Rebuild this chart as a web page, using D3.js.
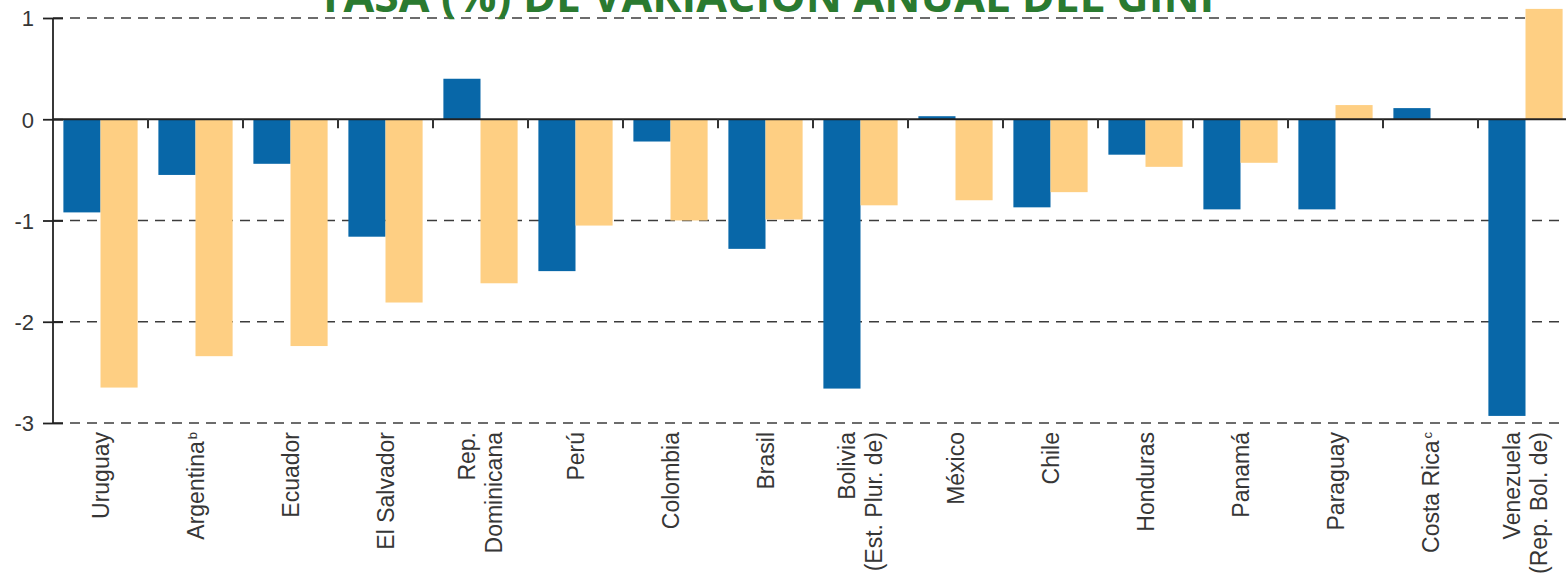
<!DOCTYPE html>
<meta charset="utf-8">
<html>
<head>
    <title>Tasa de variación anual del Gini</title>
    <script src="https://cdn.jsdelivr.net/npm/d3@7"></script>
</head>
<style>
    body{
        margin: 0;
        background: white;
    }
    svg{
        display: block;
    }
    .tick-label{
        fill: #363636;
        font-family: "Liberation Sans", Arial, sans-serif;
    }
    .title{
        fill: #2a7a30;
        font-family: "Open Sans", sans-serif;
        font-weight: 700;
    }
</style>
<body>
<svg width="1566" height="577"></svg>
<script>

    // data
    let countries = ["Uruguay", "Argentina", "Ecuador", "El Salvador", "Rep. Dominicana", "Perú",
        "Colombia", "Brasil", "Bolivia", "México", "Chile", "Honduras", "Panamá", "Paraguay",
        "Costa Rica", "Venezuela"]
    // label lines and note letters for the x axis
    let labelLines = [["Uruguay"], ["Argentina"], ["Ecuador"], ["El Salvador"], ["Rep.", "Dominicana"], ["Perú"],
        ["Colombia"], ["Brasil"], ["Bolivia", "(Est. Plur. de)"], ["México"], ["Chile"], ["Honduras"], ["Panamá"], ["Paraguay"],
        ["Costa Rica"], ["Venezuela", "(Rep. Bol. de)"]]
    let notes = ["", "b", "", "", "", "", "", "", "", "", "", "", "", "", "c", ""]
    let serieA = [-0.92, -0.55, -0.44, -1.16, 0.40, -1.50, -0.22, -1.28, -2.66, 0.03, -0.87, -0.35, -0.89, -0.89, 0.11, -2.93]
    let serieB = [-2.65, -2.34, -2.24, -1.81, -1.62, -1.05, -1.00, -0.99, -0.85, -0.80, -0.72, -0.47, -0.43, 0.14, 0, 1.09]
    let yTicks = [1, 0, -1, -2, -3]
    let titleText = "TASA (%) DE VARIACIÓN ANUAL DEL GINI"

    let series = ["serieA", "serieB"]
    let colors = {serieA: "#0867a8", serieB: "#fecf83"}

    let rows = countries.map((c, i) => ({country: c, serieA: serieA[i], serieB: serieB[i]}))

    let svg = d3.select("svg")

    //*****************************
    // scales
    let left = 53, step = 95
    let x = d3.scaleBand()
        .domain(countries)
        .range([left, left + step * countries.length])
        .padding(0)
    let xInner = d3.scaleBand()
        .domain(series)
        .range([0, x.bandwidth()])
        .paddingInner(0)
        .paddingOuter(0.28)
    let y = d3.scaleLinear()
        .domain([-3, 1])
        .range([423, 18])

    //*****************************
    // dashed grid lines
    svg.append('g')
        .selectAll('line')
        .data(yTicks.filter(d => d !== 0))
        .enter()
        .append('line')
        .attr('x1', left)
        .attr('x2', 1566)
        .attr('y1', d => y(d))
        .attr('y2', d => y(d))
        .attr('stroke', '#3c3c3c')
        .attr('stroke-width', 1.6)
        .attr('stroke-dasharray', '10,7')

    //*****************************
    // bars
    let groups = svg.append('g')
        .selectAll('g')
        .data(rows)
        .enter()
        .append('g')
        .attr('transform', d => 'translate(' + x(d.country) + ',0)')
    groups.selectAll('rect')
        .data(d => series.map(s => ({key: s, value: d[s]})))
        .enter()
        .append('rect')
        .attr('x', d => xInner(d.key))
        .attr('width', xInner.bandwidth())
        .attr('y', d => y(Math.max(0, d.value)))
        .attr('height', d => Math.abs(y(d.value) - y(0)))
        .attr('fill', d => colors[d.key])

    //*****************************
    // zero line and ticks between the groups
    svg.append('line')
        .attr('x1', left).attr('x2', 1566)
        .attr('y1', y(0)).attr('y2', y(0))
        .attr('stroke', '#222').attr('stroke-width', 1.8)
    svg.append('g')
        .selectAll('line')
        .data(countries.slice(1).concat(['end']))
        .enter()
        .append('line')
        .attr('x1', (d, i) => x(countries[i]) + step)
        .attr('x2', (d, i) => x(countries[i]) + step)
        .attr('y1', y(0))
        .attr('y2', y(0) + 9)
        .attr('stroke', '#333')
        .attr('stroke-width', 2)

    //*****************************
    // y axis
    let yAxis = svg.append('g')
        .attr('transform', 'translate(' + left + ',0)')
        .call(d3.axisLeft(y).tickValues(yTicks).tickSize(10).tickPadding(9).tickFormat(d3.format('d')))
    yAxis.select('.domain').attr('stroke', '#222').attr('stroke-width', 1.8)
        .attr('d', 'M0,' + y(1) + 'V' + y(-3))
    yAxis.selectAll('.tick line').attr('stroke', '#222').attr('stroke-width', 1.8)
        .attr('x1', 10)
    yAxis.selectAll('.tick text')
        .attr('class', 'tick-label')
        .style('font-size', '22px')
        .attr('dy', '0.36em')
    yAxis.selectAll('.tick text').text(d => d < 0 ? '-' + Math.abs(d) : d)

    //*****************************
    // x labels, rotated
    let lineGap = 27
    let labels = svg.append('g')
        .selectAll('text')
        .data(countries)
        .enter()
        .append('g')
        .attr('transform', d => 'translate(' + (x(d) + step / 2) + ',432)')
    labels.each(function(d, i) {
        let lines = labelLines[i]
        let g = d3.select(this)
        lines.forEach((ln, j) => {
            let off = (j - (lines.length - 1) / 2) * lineGap
            let t = g.append('text')
                .attr('class', 'tick-label')
                .attr('transform', 'translate(' + off + ',0) rotate(-90)')
                .attr('text-anchor', 'end')
                .attr('dy', '0.36em')
                .style('font-size', '23px')
                .text(ln)
            if (notes[i] && j === lines.length - 1) {
                t.append('tspan')
                    .attr('dy', '-0.55em')
                    .attr('dx', '2')
                    .style('font-size', '13px')
                    .text(notes[i])
            }
        })
    })

    //*****************************
    // title, cut at the top like the picture
    let title = svg.append('text')
        .attr('class', 'title')
        .attr('x', 766)
        .attr('y', 12)
        .attr('text-anchor', 'middle')
        .style('font-size', '40px')
        .text(titleText)
    let w = title.node().getComputedTextLength()
    title.style('font-size', (40 * 897 / w) + 'px')

</script>
</body>
</html>
